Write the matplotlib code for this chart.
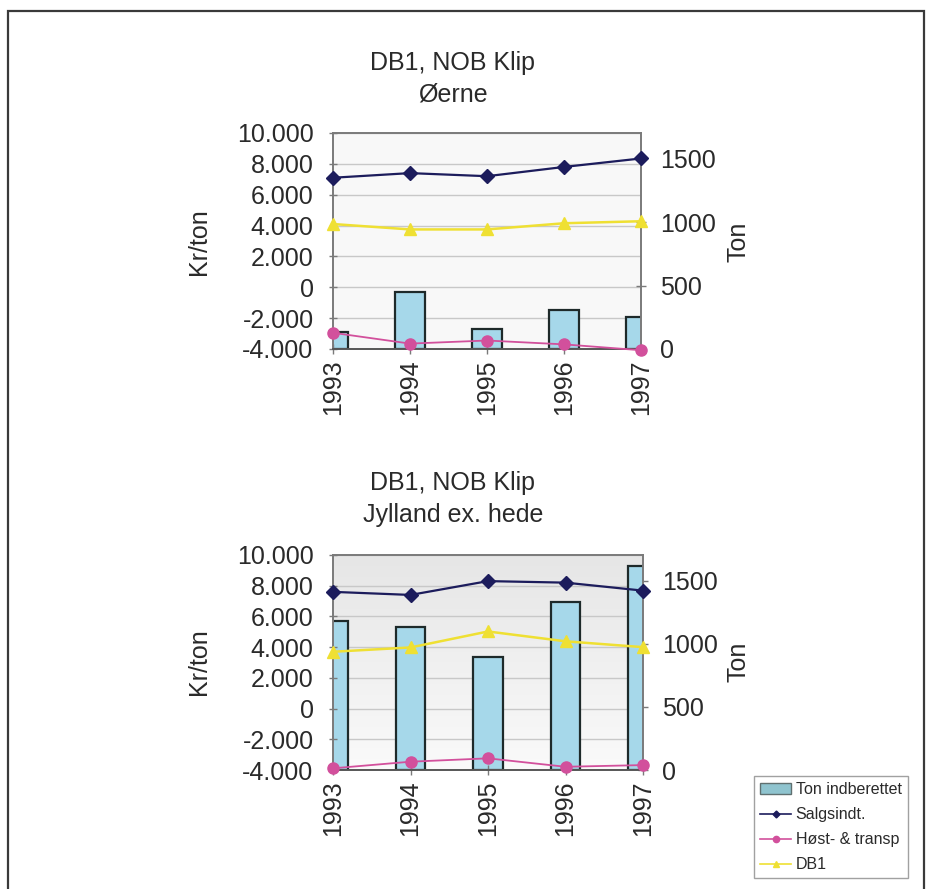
import matplotlib
matplotlib.use("Agg")
import matplotlib.pyplot as plt
import numpy as np
from matplotlib.transforms import blended_transform_factory
from matplotlib.patches import Rectangle, Patch
from matplotlib.lines import Line2D
from matplotlib.ticker import FuncFormatter
from matplotlib.colors import LinearSegmentedColormap

plt.rcParams['font.family'] = ['Liberation Sans', 'DejaVu Sans']

# ---------------- data ----------------
years = ['1993', '1994', '1995', '1996', '1997']

ton_oerne = [137, 447, 156, 307, 254]
salg_oerne = [7100, 7400, 7200, 7800, 8350]
host_oerne = [-2950, -3650, -3450, -3700, -4080]
db1_oerne = [4100, 3750, 3750, 4150, 4280]

ton_jyl = [1185, 1137, 894, 1331, 1619]
salg_jyl = [7600, 7400, 8300, 8200, 7680]
host_jyl = [-3890, -3460, -3240, -3790, -3680]
db1_jyl = [3700, 3980, 5020, 4380, 4000]

left_ticks = [-4000, -2000, 0, 2000, 4000, 6000, 8000, 10000]
right_ticks = [0, 500, 1000, 1500]

legend_labels = ['Ton indberettet', 'Salgsindt.', 'Høst- & transp', 'DB1']

# ---------------- style ----------------
W, H = 926, 889
NAVY = '#1c1c5c'
PINK = '#d2509c'
YELLOW = '#efe033'
BAR = '#a6d8ea'
BAR_EDGE = '#1e2a2a'
GRID = '#c8c8c8'
SPINE = '#7a7a7a'
TXT = '#2a2a2a'


def fx(x):
    return x / W


def fy(y):
    return 1 - y / H


fig = plt.figure(figsize=(W / 100, H / 100), dpi=100)
fig.patch.set_facecolor('white')


def thousands(v, pos):
    s = f"{abs(int(v)):,}".replace(',', '.')
    return ('-' if v < 0 else '') + s


def make_chart(rect, ton, salg, host, db1, gradient):
    x = np.arange(len(years))
    ax2 = fig.add_axes(rect)          # right axis (Ton), behind
    ax = fig.add_axes(rect, sharex=ax2)
    ax.set_zorder(ax2.get_zorder() + 1)
    ax.patch.set_visible(False)

    # background
    if gradient:
        g = np.linspace(0, 1, 256).reshape(-1, 1)
        cmap = LinearSegmentedColormap.from_list('bg', ['#e6e6e6', '#fafafa'])
        ax2.imshow(g, extent=[0, 1, 0, 1], transform=ax2.transAxes,
                   aspect='auto', cmap=cmap, zorder=-5, origin='upper')
    else:
        ax2.set_facecolor('#f8f8f8')

    # bars on right axis
    ax2.bar(x, ton, width=0.38, color=BAR, edgecolor=BAR_EDGE, linewidth=1.6, zorder=2)
    ax2.set_ylim(0, 1705)
    ax2.set_xlim(0, len(years) - 1)

    # grid lines (left axis values) drawn behind bars
    tr = blended_transform_factory(ax2.transAxes, ax.transData)
    for t in left_ticks:
        ax2.plot([0, 1], [t, t], transform=tr, color=GRID, lw=1.0, zorder=1)

    # lines on left axis
    ax.plot(x, salg, color=NAVY, lw=1.6, marker='D', ms=7, clip_on=False, zorder=5)
    ax.plot(x, host, color=PINK, lw=1.3, marker='o', ms=8, clip_on=False, zorder=4)
    ax.plot(x, db1, color=YELLOW, lw=1.8, marker='^', ms=8, clip_on=False, zorder=4)
    ax.set_ylim(-4000, 10000)
    ax.set_yticks(left_ticks)
    ax.yaxis.set_major_formatter(FuncFormatter(thousands))
    ax.set_xlim(0, len(years) - 1)
    ax.set_xticks(x)
    ax.set_xticklabels(years, rotation=90)

    # ticks/labels
    ax.yaxis.tick_left()
    ax.tick_params(axis='y', direction='inout', length=6, pad=11, labelsize=18,
                   colors=TXT, width=1)
    ax.tick_params(axis='y', color=SPINE)
    ax.tick_params(axis='x', direction='inout', length=7, pad=4, labelsize=18,
                   colors=TXT, width=1)
    ax.tick_params(axis='x', color=SPINE)

    ax2.yaxis.tick_right()
    ax2.set_yticks(right_ticks)
    ax2.tick_params(axis='y', direction='inout', length=7, pad=10, labelsize=18,
                    colors=TXT, width=1)
    ax2.tick_params(axis='y', color=SPINE)
    ax2.tick_params(axis='x', bottom=False, labelbottom=False)

    for a in (ax, ax2):
        for s in a.spines.values():
            s.set_color(SPINE)
            s.set_linewidth(1.2)
    ax.spines['bottom'].set_color('#505050')
    return ax, ax2


# top chart
r1 = [fx(333), fy(349), fx(641) - fx(333), fy(133) - fy(349)]
make_chart(r1, ton_oerne, salg_oerne, host_oerne, db1_oerne, gradient=False)
# bottom chart
r2 = [fx(333), fy(770), fx(643) - fx(333), fy(555) - fy(770)]
make_chart(r2, ton_jyl, salg_jyl, host_jyl, db1_jyl, gradient=True)

# titles
fig.text(fx(453), fy(63), 'DB1, NOB Klip', ha='center', va='center', fontsize=18, color=TXT)
fig.text(fx(453), fy(95), 'Øerne', ha='center', va='center', fontsize=18, color=TXT)
fig.text(fx(453), fy(483), 'DB1, NOB Klip', ha='center', va='center', fontsize=18, color=TXT)
fig.text(fx(453), fy(515), 'Jylland ex. hede', ha='center', va='center', fontsize=18, color=TXT)

# axis labels
for yc in (242, 662):
    fig.text(fx(199), fy(yc), 'Kr/ton', rotation=90, ha='center', va='center', fontsize=18, color=TXT)
    fig.text(fx(739), fy(yc), 'Ton', rotation=90, ha='center', va='center', fontsize=18, color=TXT)

# legend
handles = [
    Patch(facecolor='#8fc4cf', edgecolor='#607070', linewidth=1.0),
    Line2D([], [], color=NAVY, lw=1.2, marker='D', ms=3.5),
    Line2D([], [], color=PINK, lw=1.2, marker='o', ms=4.5),
    Line2D([], [], color=YELLOW, lw=1.2, marker='^', ms=4.5),
]
leg = fig.legend(handles, legend_labels, loc='upper left',
                 bbox_to_anchor=(fx(754), fy(776)), fontsize=11.5,
                 frameon=True, fancybox=False, edgecolor='#8a8a8a',
                 borderpad=0.4, labelspacing=0.62, handlelength=1.9,
                 handletextpad=0.3, borderaxespad=0)
leg.get_frame().set_linewidth(1.0)
for t in leg.get_texts():
    t.set_color(TXT)

# outer frame
fig.add_artist(Rectangle((fx(8), -0.02), fx(924) - fx(8), fy(11) + 0.02,
                         transform=fig.transFigure, fill=False,
                         edgecolor='#3a3a3a', linewidth=1.6))

fig.savefig('out.png', dpi=100, facecolor='white')
